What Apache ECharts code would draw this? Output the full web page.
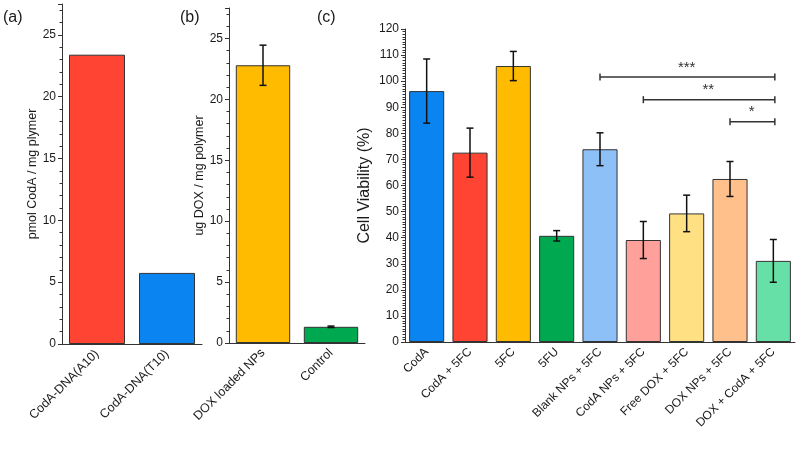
<!DOCTYPE html>
<html>
<head>
<meta charset="utf-8">
<script src="https://cdn.jsdelivr.net/npm/echarts@6/dist/echarts.min.js"></script>
<style>
html,body{margin:0;padding:0;background:#fff;}
#chart{width:800px;height:449px;}
</style>
</head>
<body>
<div id="chart"></div>
<script>
// ---- Data ----
var catsA = ['CodA-DNA(A10)', 'CodA-DNA(T10)'];
var valsA = [23.4, 5.75];
var colorsA = ['#ff4433', '#0a84f0'];

var catsB = ['DOX loaded NPs', 'Control'];
var valsB = [22.8, 1.33];
var errB = [1.65, 0.06];
var colorsB = ['#ffbb00', '#00a84f'];

var catsC = ['CodA', 'CodA + 5FC', '5FC', '5FU', 'Blank NPs + 5FC', 'CodA NPs + 5FC', 'Free DOX + 5FC', 'DOX NPs + 5FC', 'DOX + CodA + 5FC'];
var valsC = [96.2, 72.6, 105.8, 40.7, 73.9, 39.1, 49.3, 62.5, 31.1];
var errC = [12.3, 9.4, 5.6, 2.0, 6.3, 7.1, 7.0, 6.7, 8.2];
var colorsC = ['#0a84f0', '#ff4433', '#ffbb00', '#00a84f', '#8ec0f8', '#ffa09a', '#ffe083', '#ffc08c', '#66e0a6'];

var bracketFrom = [4, 5, 7];
var bracketTo = [8, 8, 8];
var bracketY = [101.6, 92.9, 84.4];
var bracketLabels = ['***', '**', '*'];

var ticksA = { min: 0, max: 27.5, interval: 5 };
var ticksB = { min: 0, max: 27.5, interval: 5 };
var ticksC = { min: 0, max: 120, interval: 10 };

// ---- Helpers ----
var FONT = '"Liberation Sans", Arial, sans-serif';
var AX = '#333';
var TXT = '#1a1a1a';

function xAxisCfg(idx, cats, fs) {
  return {
    type: 'category', gridIndex: idx, data: cats, boundaryGap: true,
    axisLine: { lineStyle: { color: AX, width: 1 } },
    axisTick: { alignWithLabel: true, length: 4, lineStyle: { color: AX } },
    axisLabel: { rotate: 45, fontSize: fs, color: TXT, fontFamily: FONT, margin: 8, interval: 0 },
    splitLine: { show: false }
  };
}
function yAxisCfg(idx, t, name, nameFs, nameGap, minorSplit) {
  return {
    type: 'value', gridIndex: idx, min: t.min, max: t.max, interval: t.interval,
    name: name, nameLocation: 'middle', nameGap: nameGap, nameRotate: 90,
    nameTextStyle: { fontSize: nameFs, color: TXT, fontFamily: FONT },
    axisLine: { show: true, lineStyle: { color: AX, width: 1 } },
    axisTick: { show: true, length: 4, lineStyle: { color: AX } },
    minorTick: { show: true, splitNumber: minorSplit, length: 2.5, lineStyle: { color: AX } },
    axisLabel: { fontSize: 12, color: TXT, fontFamily: FONT, showMaxLabel: t.max % t.interval === 0, margin: 6 },
    splitLine: { show: false }
  };
}
function barData(vals, colors) {
  return vals.map(function (v, i) { return { value: v, itemStyle: { color: colors[i] } }; });
}
function errData(vals, errs) {
  return vals.map(function (v, i) { return [i, v, errs[i]]; });
}
function renderErr(params, api) {
  var i = api.value(0), v = api.value(1), e = api.value(2);
  var hi = api.coord([i, v + e]);
  var lo = api.coord([i, v - e]);
  var w = 3.5;
  var st = { stroke: '#111', lineWidth: 1.5 };
  return {
    type: 'group',
    children: [
      { type: 'line', shape: { x1: hi[0], y1: hi[1], x2: lo[0], y2: lo[1] }, style: st },
      { type: 'line', shape: { x1: hi[0] - w, y1: hi[1], x2: hi[0] + w, y2: hi[1] }, style: st },
      { type: 'line', shape: { x1: lo[0] - w, y1: lo[1], x2: lo[0] + w, y2: lo[1] }, style: st }
    ]
  };
}
function renderBracket(params, api) {
  var a = api.coord([api.value(0), api.value(2)]);
  var b = api.coord([api.value(1), api.value(2)]);
  var lbl = bracketLabels[params.dataIndex];
  var st = { stroke: '#333', lineWidth: 1.5 };
  var c = 3.5;
  return {
    type: 'group',
    children: [
      { type: 'line', shape: { x1: a[0], y1: a[1], x2: b[0] + 1.5, y2: b[1] }, style: st },
      { type: 'line', shape: { x1: a[0], y1: a[1] - c, x2: a[0], y2: a[1] + c }, style: st },
      { type: 'line', shape: { x1: b[0] + 1.5, y1: b[1] - c, x2: b[0] + 1.5, y2: b[1] + c }, style: st },
      { type: 'text', style: { text: lbl, x: (a[0] + b[0]) / 2, y: a[1] - 2, align: 'center', verticalAlign: 'bottom', fontSize: 15, fontFamily: FONT, fill: '#333' } }
    ]
  };
}

var chart = echarts.init(document.getElementById('chart'), null, { renderer: 'canvas' });
var barStyle = { borderColor: '#333', borderWidth: 1 };

var option = {
  animation: false,
  backgroundColor: '#fff',
  textStyle: { fontFamily: FONT },
  grid: [
    { left: 62, top: 4, width: 140, height: 340 },
    { left: 229, top: 8, width: 136, height: 335 },
    { left: 405, top: 29, width: 390, height: 313 }
  ],
  xAxis: [
    xAxisCfg(0, catsA, 12.5),
    xAxisCfg(1, catsB, 12.5),
    xAxisCfg(2, catsC, 12)
  ],
  yAxis: [
    yAxisCfg(0, ticksA, 'pmol CodA / mg plymer', 12.5, 22, 5),
    yAxisCfg(1, ticksB, 'ug DOX / mg polymer', 12.5, 19, 5),
    yAxisCfg(2, ticksC, 'Cell Viability (%)', 16, 32, 10)
  ],
  graphic: [
    { type: 'text', left: 3, top: 10, style: { text: '(a)', fontSize: 16, fontFamily: FONT, fill: TXT } },
    { type: 'text', left: 180, top: 10, style: { text: '(b)', fontSize: 16, fontFamily: FONT, fill: TXT } },
    { type: 'text', left: 317, top: 10, style: { text: '(c)', fontSize: 16, fontFamily: FONT, fill: TXT } }
  ],
  series: [
    { type: 'bar', xAxisIndex: 0, yAxisIndex: 0, barWidth: '80%', data: barData(valsA, colorsA), itemStyle: barStyle },
    { type: 'bar', xAxisIndex: 1, yAxisIndex: 1, barWidth: '80%', data: barData(valsB, colorsB), itemStyle: barStyle },
    { type: 'custom', xAxisIndex: 1, yAxisIndex: 1, data: errData(valsB, errB), renderItem: renderErr, z: 5 },
    { type: 'bar', xAxisIndex: 2, yAxisIndex: 2, barWidth: '81%', data: barData(valsC, colorsC), itemStyle: barStyle },
    { type: 'custom', xAxisIndex: 2, yAxisIndex: 2, data: errData(valsC, errC), renderItem: renderErr, z: 5 },
    { type: 'custom', xAxisIndex: 2, yAxisIndex: 2, data: bracketFrom.map(function (f, i) { return [f, bracketTo[i], bracketY[i]]; }), renderItem: renderBracket, z: 5 }
  ]
};
chart.setOption(option);
</script>
</body>
</html>
